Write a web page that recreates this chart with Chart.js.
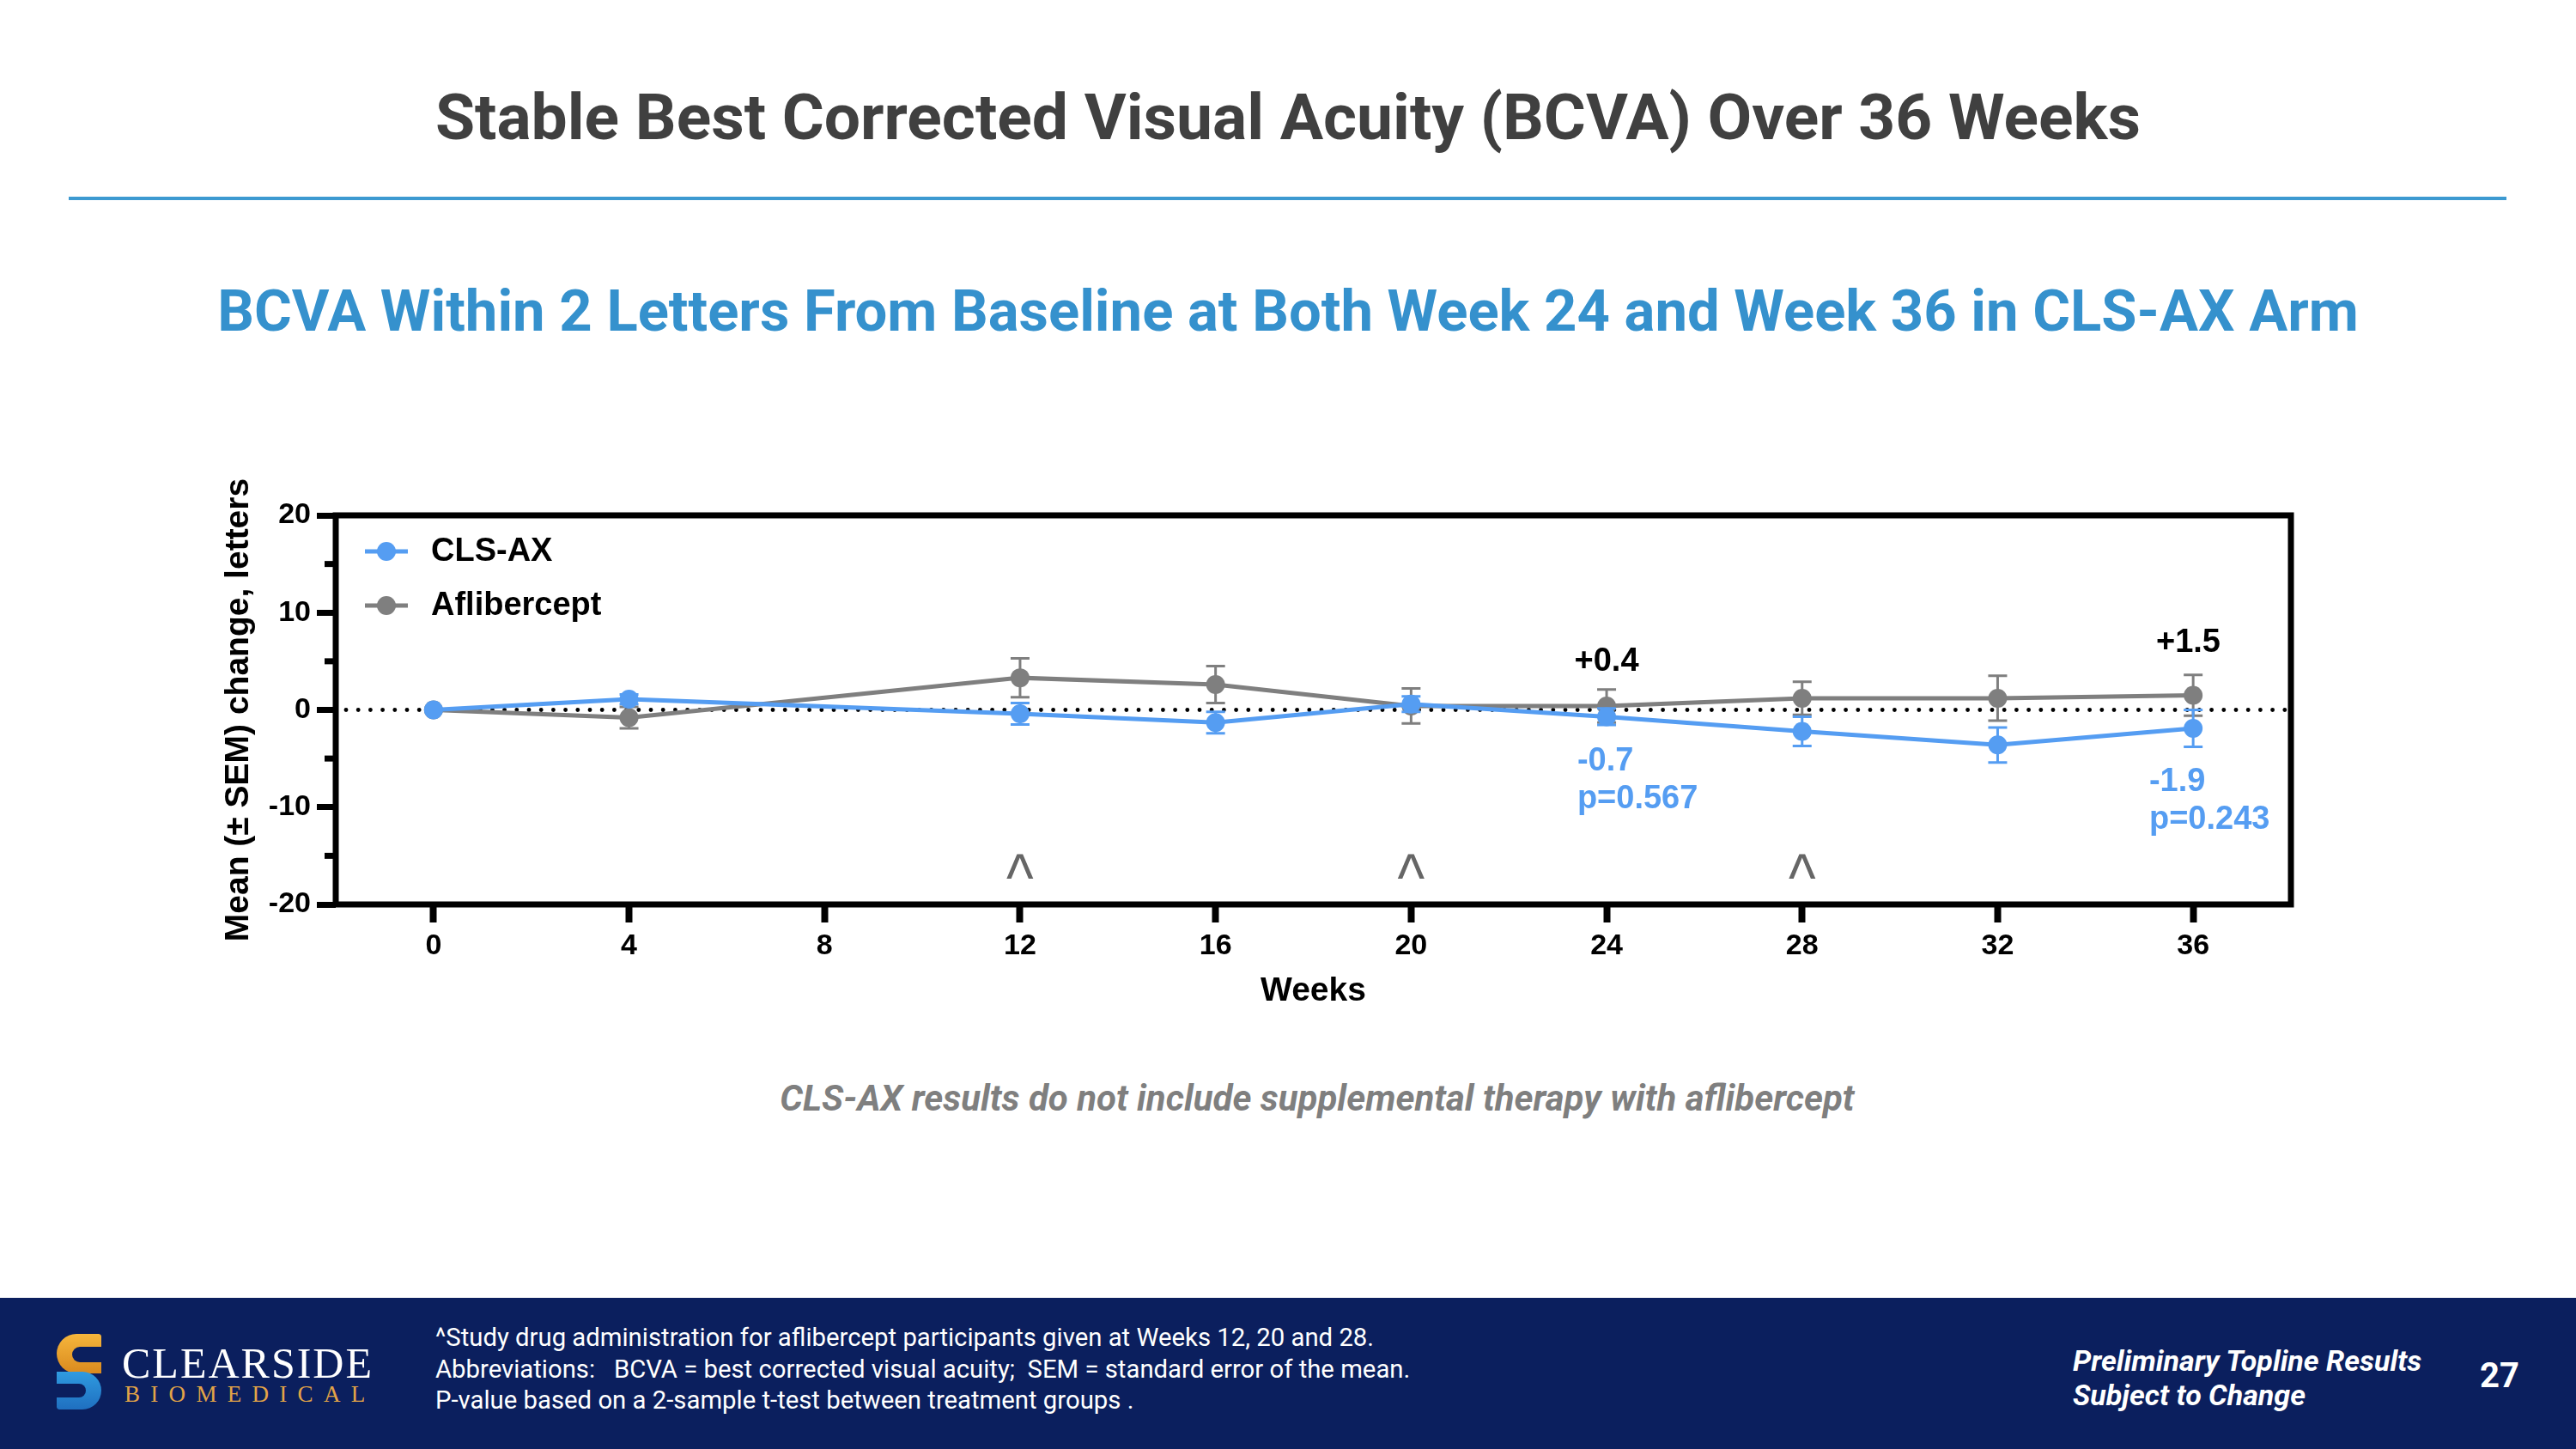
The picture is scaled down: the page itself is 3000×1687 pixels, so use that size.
<!DOCTYPE html>
<html>
<head>
<meta charset="utf-8">
<script src="https://cdn.jsdelivr.net/npm/chart.js@4.4.1/dist/chart.umd.min.js"></script>
<style>
  body { margin: 0; width: 3000px; height: 1687px; background: #fff; position: relative; overflow: hidden; font-family: Roboto, sans-serif; }
  .abs { position: absolute; }
  #title { left: 0; width: 3000px; top: 92px; text-align: center; font: 700 75px Roboto; color: #404040; }
  #rule { left: 80px; width: 2839px; top: 229px; height: 4px; background: #3d9ad1; }
  #subtitle { left: 0; width: 3000px; top: 323px; text-align: center; font: 700 67px Roboto; color: #3591cd; }
  #chartBox { left: 255px; top: 540px; width: 2465px; height: 643px; }
  #note { left: 0; width: 3068px; top: 1254px; text-align: center; font: italic 700 42px Roboto; color: #7f7f7f; }
  #footer { left: 0; top: 1511px; width: 3000px; height: 176px; background: #0b1f5e; }
  #foot { left: 507px; top: 1539px; font: 400 29.3px Roboto; line-height: 36.5px; color: #fff; }
  #prelim { left: 2414px; top: 1564px; font: italic 700 34px Roboto; line-height: 40px; color: #fff; }
  #page { left: 2888px; top: 1578px; font: 700 40px Roboto; color: #fff; }
  #logo1 { left: 142px; top: 1558px; font: 400 50px "Liberation Serif", serif; color: #fff; letter-spacing: 2px; }
  #logo2 { left: 145px; top: 1608px; font: 400 27px "Liberation Serif", serif; color: #e3a447; letter-spacing: 12.3px; }
  #sTop { left: 66px; top: 1553px; width: 52px; height: 46px; background: linear-gradient(#f6b63c, #d98a1e); border-radius: 26px 4px 0 26px; }
  #sTopCut { left: 84px; top: 1568px; width: 34px; height: 18px; background: #0b1f5e; border-radius: 9px 0 0 9px; }
  #sBot { left: 66px; top: 1597px; width: 52px; height: 44px; background: linear-gradient(#2f9be0, #1f6fc0); border-radius: 0 26px 26px 4px; }
  #sBotCut { left: 66px; top: 1611px; width: 34px; height: 16px; background: #0b1f5e; border-radius: 0 8px 8px 0; }
</style>
</head>
<body>
<div id="title" class="abs">Stable Best Corrected Visual Acuity (BCVA) Over 36 Weeks</div>
<div id="rule" class="abs"></div>
<div id="subtitle" class="abs">BCVA Within 2 Letters From Baseline at Both Week 24 and Week 36 in CLS-AX Arm</div>
<div id="chartBox" class="abs"><canvas id="bcva"></canvas></div>
<div id="note" class="abs">CLS-AX results do not include supplemental therapy with aflibercept</div>
<div id="footer" class="abs"></div>
<div id="sTop" class="abs"></div><div id="sTopCut" class="abs"></div>
<div id="sBot" class="abs"></div><div id="sBotCut" class="abs"></div>
<div id="logo1" class="abs">CLEARSIDE</div>
<div id="logo2" class="abs">BIOMEDICAL</div>
<div id="foot" class="abs">^Study drug administration for aflibercept participants given at Weeks 12, 20 and 28.<br>Abbreviations:&nbsp;&nbsp; BCVA = best corrected visual acuity;&nbsp; SEM = standard error of the mean.<br>P-value based on a 2-sample t-test between treatment groups .</div>
<div id="prelim" class="abs">Preliminary Topline Results<br>Subject to Change</div>
<div id="page" class="abs">27</div>

<script>
// data
const weeks = [0, 4, 12, 16, 20, 24, 28, 32, 36];
const clsAx = [0, 1.1, -0.4, -1.3, 0.6, -0.7, -2.2, -3.6, -1.9];
const clsAxSem = [0, 0.5, 1.1, 1.1, 0.8, 0.85, 1.5, 1.8, 1.9];
const aflib = [0, -0.8, 3.3, 2.6, 0.4, 0.4, 1.2, 1.2, 1.5];
const aflibSem = [0, 1.1, 2.0, 1.9, 1.8, 1.7, 1.7, 2.3, 2.1];
const weekTicks = [0, 4, 8, 12, 16, 20, 24, 28, 32, 36];
const yTicks = [-20, -15, -10, -5, 0, 5, 10, 15, 20];
const dosingWeeks = [12, 20, 28];

const blue = '#559df2';
const gray = '#7f7f7f';

// text labels: [text, week, value, colour, align]
const labels = [
    ['+0.4', 24, 4.9, '#000', 'center'],
    ['+1.5', 35.9, 6.9, '#000', 'center'],
    ['-0.7', 23.4, -5.3, blue, 'left'],
    ['p=0.567', 23.4, -9.2, blue, 'left'],
    ['-1.9', 35.1, -7.4, blue, 'left'],
    ['p=0.243', 35.1, -11.3, blue, 'left']
];

const sems = [clsAxSem, aflibSem];
const arial = '"Liberation Sans", Arial';

const extras = {
    id: 'extras',
    beforeDatasetsDraw(chart) {
        let {ctx, chartArea: a, scales: {y}} = chart;
        let y0 = y.getPixelForValue(0);
        ctx.save();
        ctx.fillStyle = '#000';
        for (let px = a.left + 12; px < a.right - 6; px += 14.2) {
            ctx.beginPath();
            ctx.arc(px, y0, 2.4, 0, Math.PI * 2);
            ctx.fill();
        }
        ctx.restore();
    },
    beforeDatasetDraw(chart, args) {
        let {ctx, scales: {x, y}} = chart;
        let ds = chart.data.datasets[args.index];
        let sem = sems[args.index];
        ctx.save();
        ctx.strokeStyle = ds.borderColor;
        ctx.lineWidth = 3;
        ds.data.forEach((p, i) => {
            if (!sem[i]) return;
            let px = x.getPixelForValue(p.x);
            let top = y.getPixelForValue(p.y + sem[i]);
            let bot = y.getPixelForValue(p.y - sem[i]);
            ctx.beginPath();
            ctx.moveTo(px, top); ctx.lineTo(px, bot);
            ctx.moveTo(px - 11, top); ctx.lineTo(px + 11, top);
            ctx.moveTo(px - 11, bot); ctx.lineTo(px + 11, bot);
            ctx.stroke();
        });
        ctx.restore();
    },
    afterDatasetsDraw(chart) {
        let {ctx, chartArea: a, scales: {x, y}} = chart;
        ctx.save();
        // frame
        ctx.strokeStyle = '#000';
        ctx.lineWidth = 7;
        ctx.strokeRect(a.left, a.top, a.right - a.left, a.bottom - a.top);
        // minor y ticks
        yTicks.filter(v => v % 10 !== 0).forEach(v => {
            let py = y.getPixelForValue(v);
            ctx.beginPath();
            ctx.moveTo(a.left - 13, py); ctx.lineTo(a.left, py);
            ctx.stroke();
        });
        // legend
        ctx.textBaseline = 'middle';
        [['CLS-AX', blue], ['Aflibercept', gray]].forEach(([name, col], i) => {
            let ly = a.top + 42 + i * 63;
            let lx = a.left + 59;
            ctx.strokeStyle = col;
            ctx.lineWidth = 5;
            ctx.beginPath();
            ctx.moveTo(lx - 25, ly); ctx.lineTo(lx + 25, ly);
            ctx.stroke();
            ctx.fillStyle = col;
            ctx.beginPath();
            ctx.arc(lx, ly, 11, 0, Math.PI * 2);
            ctx.fill();
            ctx.fillStyle = '#000';
            ctx.font = 'bold 38px ' + arial;
            ctx.textAlign = 'left';
            ctx.fillText(name, a.left + 111, ly + 1);
        });
        // value labels
        ctx.font = 'bold 38px ' + arial;
        labels.forEach(([t, wk, v, col, al]) => {
            ctx.fillStyle = col;
            ctx.textAlign = al;
            ctx.fillText(t, x.getPixelForValue(wk), y.getPixelForValue(v));
        });
        // dosing carets
        ctx.fillStyle = '#666';
        ctx.font = '50px ' + arial;
        ctx.textAlign = 'center';
        ctx.textBaseline = 'alphabetic';
        dosingWeeks.forEach(wk => {
            ctx.save();
            ctx.translate(x.getPixelForValue(wk), y.getPixelForValue(-16.3) + 38);
            ctx.scale(1.35, 1.6);
            ctx.fillText('^', 0, 0);
            ctx.restore();
        });
        ctx.restore();
    }
};

const tickFont = {family: arial, size: 34, weight: 'bold'};

new Chart(document.getElementById('bcva'), {
    type: 'line',
    data: {
        datasets: [
            {
                label: 'CLS-AX',
                data: weeks.map((w, i) => ({x: w, y: clsAx[i]})),
                borderColor: blue,
                backgroundColor: blue,
                borderWidth: 5,
                pointRadius: 11,
                pointBorderWidth: 0,
                pointBackgroundColor: blue
            },
            {
                label: 'Aflibercept',
                data: weeks.map((w, i) => ({x: w, y: aflib[i]})),
                borderColor: gray,
                backgroundColor: gray,
                borderWidth: 5,
                pointRadius: 11,
                pointBorderWidth: 0,
                pointBackgroundColor: gray
            }
        ]
    },
    options: {
        responsive: true,
        maintainAspectRatio: false,
        animation: false,
        layout: {padding: {top: 60, right: 52, bottom: 1, left: 0}},
        plugins: {legend: {display: false}, tooltip: {enabled: false}},
        scales: {
            x: {
                type: 'linear',
                min: -2,
                max: 38,
                afterBuildTicks: axis => { axis.ticks = weekTicks.map(v => ({value: v})); },
                afterFit: axis => { axis.height = 129; },
                border: {display: false},
                grid: {drawOnChartArea: false, drawTicks: true, tickLength: 21, tickWidth: 8, tickColor: '#000'},
                ticks: {color: '#000', font: tickFont, padding: 7, maxRotation: 0},
                title: {display: true, text: 'Weeks', color: '#000', font: {family: arial, size: 39, weight: 'bold'}}
            },
            y: {
                min: -20,
                max: 20,
                afterBuildTicks: axis => { axis.ticks = yTicks.map(v => ({value: v})); },
                afterFit: axis => { axis.width = 136; },
                border: {display: false},
                grid: {
                    drawOnChartArea: false, drawTicks: true, tickLength: 22, tickWidth: 7,
                    tickColor: c => (c.tick && c.tick.value % 10 === 0) ? '#000' : 'rgba(0,0,0,0)'
                },
                ticks: {color: '#000', font: tickFont, padding: 7, callback: v => v % 10 === 0 ? v : ''},
                title: {display: true, text: 'Mean (± SEM) change, letters', color: '#000', font: {family: arial, size: 39, weight: 'bold'}, padding: {top: 0, bottom: 4}}
            }
        }
    },
    plugins: [extras]
});
</script>
</body>
</html>
